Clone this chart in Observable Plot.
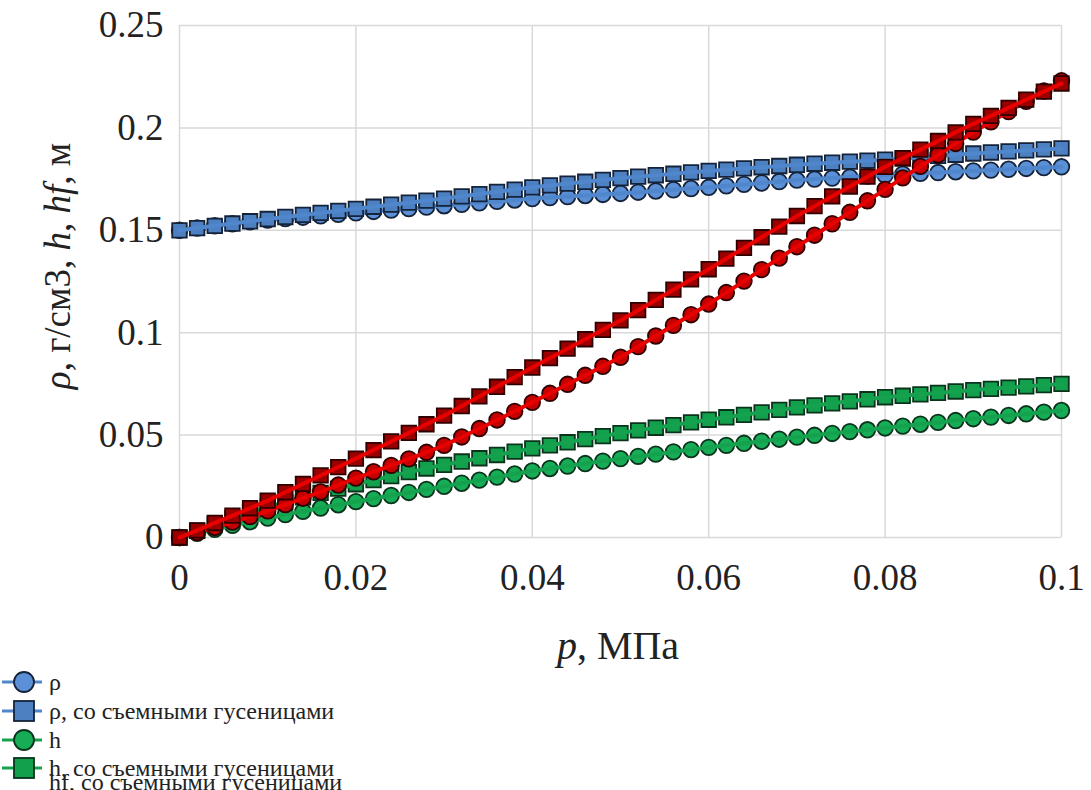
<!DOCTYPE html>
<html>
<head>
<meta charset="utf-8">
<script src="https://cdn.jsdelivr.net/npm/d3@7"></script>
<script src="https://cdn.jsdelivr.net/npm/@observablehq/plot@0.6"></script>
<style>
  html, body { margin: 0; padding: 0; background: #fff; overflow: hidden; }
  #wrap { position: relative; width: 1091px; height: 790px; overflow: hidden; font-family: "Times New Roman", "Liberation Serif", Tinos, "Noto Serif", "DejaVu Serif", serif; }
  .leg { position: absolute; left: 0; height: 28px; display: flex; align-items: center; font-size: 24px; color: #222; white-space: nowrap; font-family: "Times New Roman", "Liberation Serif", Tinos, "DejaVu Serif", serif; }
  .leg svg { display: block; margin-right: 5px; }
</style>
</head>
<body>
<div id="wrap"></div>
<script>
const FONT = "'Times New Roman', 'Liberation Serif', Tinos, 'Noto Serif', 'DejaVu Serif', serif";

// pressure, MPa
const p = [0, 0.002, 0.004, 0.006, 0.008, 0.010,
  0.012, 0.014, 0.016, 0.018, 0.020,
  0.022, 0.024, 0.026, 0.028, 0.030,
  0.032, 0.034, 0.036, 0.038, 0.040,
  0.042, 0.044, 0.046, 0.048, 0.050,
  0.052, 0.054, 0.056, 0.058, 0.060,
  0.062, 0.064, 0.066, 0.068, 0.070,
  0.072, 0.074, 0.076, 0.078, 0.080,
  0.082, 0.084, 0.086, 0.088, 0.090,
  0.092, 0.094, 0.096, 0.098, 0.100];

// ρ
const rho = [0.150, 0.1511, 0.1522, 0.1532, 0.1541, 0.1550,
  0.1557, 0.1564, 0.1571, 0.1578, 0.1585,
  0.1592, 0.1599, 0.1606, 0.1613, 0.1620,
  0.1627, 0.1634, 0.1641, 0.1648, 0.1655,
  0.1660, 0.1665, 0.1670, 0.1675, 0.1680,
  0.1686, 0.1692, 0.1698, 0.1704, 0.1710,
  0.1717, 0.1724, 0.1731, 0.1738, 0.1745,
  0.1750, 0.1755, 0.1760, 0.1765, 0.1770,
  0.1774, 0.1778, 0.1782, 0.1786, 0.1790,
  0.1794, 0.1798, 0.1802, 0.1806, 0.1810];

// ρ, со съемными гусеницами
const rhoT = [0.150, 0.1511, 0.1522, 0.1533, 0.1544, 0.1555,
  0.1565, 0.1575, 0.1585, 0.1595, 0.1605,
  0.1615, 0.1625, 0.1635, 0.1645, 0.1655,
  0.1666, 0.1677, 0.1688, 0.1699, 0.1710,
  0.1719, 0.1728, 0.1737, 0.1746, 0.1755,
  0.1762, 0.1769, 0.1776, 0.1783, 0.1790,
  0.1796, 0.1802, 0.1808, 0.1814, 0.1820,
  0.1825, 0.1830, 0.1835, 0.1840, 0.1845,
  0.1851, 0.1857, 0.1863, 0.1869, 0.1875,
  0.1880, 0.1885, 0.1890, 0.1895, 0.1900];

// h
const h = [0, 0.0020, 0.0040, 0.0059, 0.0077, 0.0095,
  0.0112, 0.0128, 0.0144, 0.0160, 0.0175,
  0.0190, 0.0205, 0.0220, 0.0235, 0.0250,
  0.0265, 0.0280, 0.0295, 0.0310, 0.0325,
  0.0337, 0.0349, 0.0361, 0.0373, 0.0385,
  0.0396, 0.0407, 0.0418, 0.0429, 0.0440,
  0.0450, 0.0460, 0.0470, 0.0480, 0.0490,
  0.0499, 0.0508, 0.0517, 0.0526, 0.0535,
  0.0544, 0.0553, 0.0562, 0.0571, 0.0580,
  0.0588, 0.0596, 0.0604, 0.0612, 0.0620];

// h, со съемными гусеницами
const hT = [0, 0.0033, 0.0064, 0.0094, 0.0122, 0.0150,
  0.0173, 0.0196, 0.0218, 0.0239, 0.0260,
  0.0280, 0.0300, 0.0319, 0.0337, 0.0355,
  0.0371, 0.0387, 0.0403, 0.0419, 0.0435,
  0.0450, 0.0465, 0.0480, 0.0495, 0.0510,
  0.0523, 0.0536, 0.0549, 0.0562, 0.0575,
  0.0587, 0.0599, 0.0611, 0.0623, 0.0635,
  0.0645, 0.0655, 0.0665, 0.0675, 0.0685,
  0.0692, 0.0699, 0.0706, 0.0713, 0.0720,
  0.0726, 0.0732, 0.0738, 0.0744, 0.0750];

// hf
const hf = [0, 0.0024, 0.0049, 0.0075, 0.0102, 0.0130,
  0.0161, 0.0192, 0.0223, 0.0256, 0.0290,
  0.0321, 0.0352, 0.0384, 0.0416, 0.0450,
  0.0491, 0.0532, 0.0574, 0.0616, 0.0660,
  0.0704, 0.0748, 0.0792, 0.0836, 0.0880,
  0.0932, 0.0984, 0.1036, 0.1088, 0.1140,
  0.1196, 0.1252, 0.1308, 0.1364, 0.1420,
  0.1476, 0.1532, 0.1588, 0.1644, 0.1700,
  0.1756, 0.1812, 0.1868, 0.1924, 0.1980,
  0.2030, 0.2080, 0.2130, 0.2180, 0.2230];

// hf, со съемными гусеницами
const hfT = [0, 0.0035, 0.0071, 0.0107, 0.0143, 0.0180,
  0.0221, 0.0262, 0.0303, 0.0344, 0.0385,
  0.0427, 0.0469, 0.0511, 0.0553, 0.0595,
  0.0642, 0.0689, 0.0736, 0.0783, 0.0830,
  0.0876, 0.0922, 0.0968, 0.1014, 0.1060,
  0.1110, 0.1160, 0.1210, 0.1260, 0.1310,
  0.1362, 0.1414, 0.1466, 0.1518, 0.1570,
  0.1618, 0.1666, 0.1714, 0.1762, 0.1810,
  0.1852, 0.1894, 0.1936, 0.1978, 0.2020,
  0.2059, 0.2098, 0.2138, 0.2177, 0.2217];

const xTicks = [0, 0.02, 0.04, 0.06, 0.08, 0.1];
const yTicks = [0, 0.05, 0.1, 0.15, 0.2, 0.25];

const seriesNames = ["ρ", "ρ, со съемными гусеницами", "h", "h, со съемными гусеницами", "hf", "hf, со съемными гусеницами"];
const seriesValues = [rho, rhoT, h, hT, hf, hfT];
const seriesSymbol = ["circle", "square", "circle", "square", "circle", "square"];
const seriesLine = ["#4f86cc", "#4f86cc", "#14a24f", "#14a24f", "#e80000", "#e80000"];
const seriesFill = ["#5b90d6", "#4c80c0", "#17ad56", "#13a04d", "#c40000", "#9a0000"];
const seriesEdge = ["#15233a", "#15233a", "#0a331b", "#0a331b", "#2e0000", "#2e0000"];

const rows = [];
seriesNames.forEach((name, i) => {
  seriesValues[i].forEach((v, j) => rows.push({series: name, idx: i, p: p[j], v}));
});

const W = 1091, H = 680;
const marks = [
  Plot.gridX(xTicks, {stroke: "#d9d9d9", strokeOpacity: 1, strokeWidth: 1.5}),
  Plot.gridY(yTicks, {stroke: "#d9d9d9", strokeOpacity: 1, strokeWidth: 1.5}),
  Plot.axisX(xTicks, {tickSize: 0, tickPadding: 26, fontSize: 37, tickFormat: d => String(d), label: null, fill: "#222"}),
  Plot.axisY(yTicks, {tickSize: 0, tickPadding: 16, fontSize: 37, tickFormat: d => String(d), label: null, fill: "#222"})
];
for (const i of [0, 1, 2, 3, 4, 5]) {
  const data = rows.filter(r => r.idx === i);
  marks.push(Plot.dot(data, {
    x: "p", y: "v", symbol: seriesSymbol[i],
    r: seriesSymbol[i] === "square" ? 8.2 : 7.8,
    fill: seriesFill[i], stroke: seriesEdge[i], strokeWidth: 1.8
  }));
  marks.push(Plot.line(data, {x: "p", y: "v", stroke: seriesLine[i], strokeWidth: 4}));
}

const chart = Plot.plot({
  width: W, height: H,
  marginLeft: 179, marginRight: 30, marginTop: 25, marginBottom: H - 537,
  style: {fontFamily: FONT, background: "#fff", color: "#222"},
  x: {domain: [0, 0.1], axis: null},
  y: {domain: [0, 0.25], axis: null},
  marks
});

const wrap = document.getElementById("wrap");
wrap.appendChild(chart);

// axis titles with italic variables
const svg = d3.select(chart);
const yl = svg.append("text")
  .attr("transform", "translate(62,266) rotate(-90)")
  .attr("text-anchor", "middle")
  .attr("dominant-baseline", "middle")
  .attr("font-size", 37)
  .attr("fill", "#222")
  .style("font-family", FONT);
[["ρ", true], [", г/см3, ", false], ["h", true], [", ", false], ["hf", true], [", м", false]]
  .forEach(([t, it]) => yl.append("tspan").attr("font-style", it ? "italic" : "normal").text(t));

const xl = svg.append("text")
  .attr("x", 618).attr("y", 650)
  .attr("text-anchor", "middle")
  .attr("dominant-baseline", "middle")
  .attr("font-size", 40)
  .attr("fill", "#222")
  .style("font-family", FONT);
[["p", true], [", МПа", false]].forEach(([t, it]) => xl.append("tspan").attr("font-style", it ? "italic" : "normal").text(t));

// legend (clipped at the bottom like the original)
const legendRows = [
  {i: 0, top: 668},
  {i: 1, top: 697},
  {i: 2, top: 726},
  {i: 3, top: 754},
  {i: 5, top: 768}
];
legendRows.forEach(({i, top}, k) => {
  const div = document.createElement("div");
  div.className = "leg";
  div.style.top = top + "px";
  const s = d3.create("svg").attr("width", 44).attr("height", 28);
  if (k < 4) {
    s.append("line").attr("x1", 2).attr("x2", 42).attr("y1", 14).attr("y2", 14)
      .attr("stroke", seriesLine[i]).attr("stroke-width", 3);
    if (seriesSymbol[i] === "circle") {
      s.append("circle").attr("cx", 24).attr("cy", 14).attr("r", 10)
        .attr("fill", seriesFill[i]).attr("stroke", seriesEdge[i]).attr("stroke-width", 1.8);
    } else {
      s.append("rect").attr("x", 14).attr("y", 4).attr("width", 20).attr("height", 20)
        .attr("fill", seriesFill[i]).attr("stroke", seriesEdge[i]).attr("stroke-width", 1.8);
    }
  }
  div.appendChild(s.node());
  const span = document.createElement("span");
  span.textContent = seriesNames[i];
  div.appendChild(span);
  wrap.appendChild(div);
});
</script>
</body>
</html>
